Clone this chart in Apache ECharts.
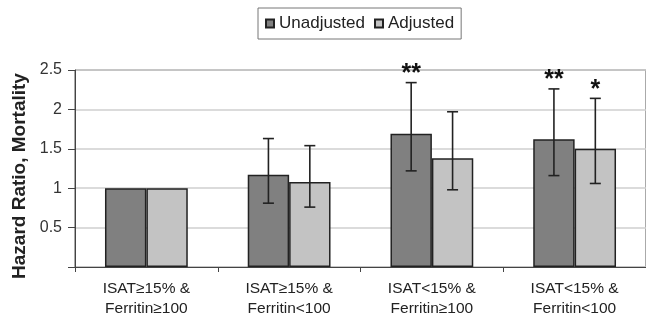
<!DOCTYPE html>
<html><head><meta charset="utf-8">
<script src="https://cdn.jsdelivr.net/npm/echarts@6/dist/echarts.min.js"></script>
<style>html,body{margin:0;padding:0;background:#fff}#c{width:646px;height:325px}</style>
</head><body><div id="c"></div>
<script>
var categories = ['ISAT≥15% &\nFerritin≥100', 'ISAT≥15% &\nFerritin<100', 'ISAT<15% &\nFerritin≥100', 'ISAT<15% &\nFerritin<100'];
var unadjusted = [1, 1.17, 1.69, 1.62];
var adjusted = [1, 1.08, 1.38, 1.50];
var unadjLow = [null, 0.81, 1.22, 1.16];
var unadjHigh = [null, 1.63, 2.34, 2.26];
var adjLow = [null, 0.76, 0.98, 1.06];
var adjHigh = [null, 1.54, 1.97, 2.14];
var unadjStars = ['', '', '**', '**'];
var adjStars = ['', '', '', '*'];
var yTicks = [0, 0.5, 1, 1.5, 2, 2.5];

var FONT = '"Liberation Sans", Arial, sans-serif';
var GAP = 0.42;

function errData(lo, hi) {
  return lo.map(function (v, i) { return [i, v == null ? NaN : v, hi[i] == null ? NaN : hi[i]]; });
}
function errRender(sign, stars) {
  return function (params, api) {
    var cat = api.value(0), lo = api.value(1), hi = api.value(2);
    var star = stars[params.dataIndex];
    if (isNaN(lo) || isNaN(hi)) return null;
    var band = api.size([1, 0])[0];
    var bw = band * (1 - GAP) / 2;
    var x = api.coord([cat, 0])[0] + sign * bw / 2;
    var yl = api.coord([cat, lo])[1], yh = api.coord([cat, hi])[1];
    var st = { stroke: '#222', lineWidth: 1.6 };
    var ch = [
      { type: 'line', shape: { x1: x, y1: yl, x2: x, y2: yh }, style: st },
      { type: 'line', shape: { x1: x - 5.5, y1: yh, x2: x + 5.5, y2: yh }, style: st },
      { type: 'line', shape: { x1: x - 5.5, y1: yl, x2: x + 5.5, y2: yl }, style: st }
    ];
    if (star) {
      ch.push({ type: 'text', x: x, y: yh + 4, style: { text: star, align: 'center', verticalAlign: 'bottom', font: 'bold 25px ' + FONT, fill: '#111' } });
    }
    return { type: 'group', children: ch };
  };
}

var chart = echarts.init(document.getElementById('c'), null, { renderer: 'canvas' });
chart.setOption({
  animation: false,
  backgroundColor: '#fff',
  grid: { left: 75, right: -2, top: 70, bottom: 58, show: true, borderColor: '#555', borderWidth: 1, backgroundColor: 'transparent' },
  legend: {
    data: ['Unadjusted', 'Adjusted'], left: 258, top: 8,
    borderColor: '#777', borderWidth: 1, padding: [7, 7, 7, 7],
    itemWidth: 8, itemHeight: 8, itemGap: 9, icon: 'rect',
    textStyle: { fontFamily: FONT, fontSize: 17, color: '#222', padding: [0, 0, 0, 0] }
  },
  graphic: [{
    type: 'text', x: 20, y: 176, rotation: Math.PI / 2,
    style: { text: 'Hazard Ratio, Mortality', align: 'center', verticalAlign: 'middle', font: 'bold 19px ' + FONT, fill: '#222' }
  }],
  xAxis: {
    type: 'category', data: categories,
    axisLine: { lineStyle: { color: '#444', width: 1 } },
    axisTick: { show: true, length: 5, lineStyle: { color: '#444' } },
    axisLabel: { fontFamily: FONT, fontSize: 15.5, color: '#222', lineHeight: 20, margin: 12, interval: 0 }
  },
  yAxis: {
    type: 'value', min: 0, max: 2.5, interval: 0.5,
    axisLine: { show: true, lineStyle: { color: '#444', width: 1 } },
    axisTick: { show: true, length: 7, lineStyle: { color: '#444' } },
    axisLabel: { fontFamily: FONT, fontSize: 16, color: '#333', margin: 13,
      formatter: function (v) { return v === 0 ? '' : String(v); } },
    splitLine: { lineStyle: { color: '#cfcfcf', width: 1.5 } }
  },
  series: [
    { name: 'Unadjusted', type: 'bar', data: unadjusted, barGap: '0%', barCategoryGap: (GAP * 100) + '%',
      itemStyle: { color: '#808080', borderColor: '#222', borderWidth: 1.5 } },
    { name: 'Adjusted', type: 'bar', data: adjusted, barGap: '0%', barCategoryGap: (GAP * 100) + '%',
      itemStyle: { color: '#c3c3c3', borderColor: '#222', borderWidth: 1.5 } },
    { type: 'custom', renderItem: errRender(-1, unadjStars), data: errData(unadjLow, unadjHigh), encode: { x: 0, y: [1, 2] }, z: 5 },
    { type: 'custom', renderItem: errRender(1, adjStars), data: errData(adjLow, adjHigh), encode: { x: 0, y: [1, 2] }, z: 5 }
  ]
});
</script>
</body></html>
